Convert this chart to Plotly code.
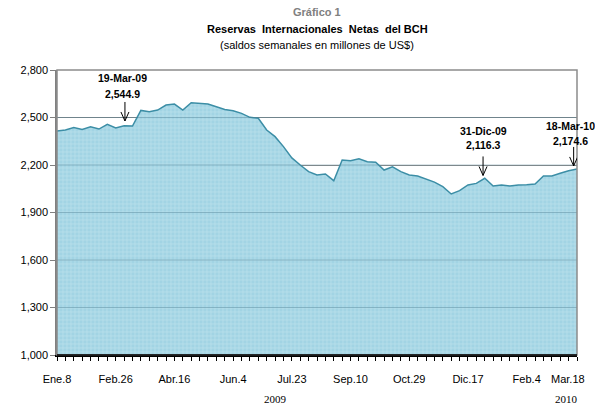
import plotly.graph_objects as go

# Weekly net international reserves (millions US$), 8-Jan-09 .. 18-Mar-10
values = [2415, 2421, 2436, 2425, 2442, 2427, 2457, 2434, 2448, 2446,
          2544.9, 2537, 2547, 2579, 2585, 2547, 2593, 2587, 2585, 2568,
          2550, 2543, 2526, 2501, 2495, 2421, 2379, 2316, 2245, 2200,
          2158, 2137, 2143, 2101, 2232, 2227, 2240, 2221, 2217, 2168,
          2189, 2158, 2137, 2131, 2112, 2092, 2063, 2017, 2038, 2074,
          2084, 2116.3, 2067, 2074, 2067, 2074, 2076, 2080, 2131, 2131,
          2148, 2164, 2174.6]
weeks = list(range(len(values)))

tick_idx = [0, 7, 14, 21, 28, 35, 42, 49, 56, 62]
tick_labels = ["Ene.8", "Feb.26", "Abr.16", "Jun.4", "Jul.23", "Sep.10",
               "Oct.29", "Dic.17", "Feb.4", "Mar.18"]

y_ticks = [1000, 1300, 1600, 1900, 2200, 2500, 2800]

# callouts: (label, value text, text x, text y-line1, text y-line2, arrow x, arrow tip y)
callouts = [
    ("19-Mar-09", "2,544.9", 7.75, 2750, 2648, 8.1, 2478),
    ("31-Dic-09", "2,116.3", 50.8, 2415, 2326, 50.8, 2134),
    ("18-Mar-10", "2,174.6", 61.26, 2446, 2352, 61.6, 2194),
]

font = "Liberation Sans, Arial, sans-serif"

fig = go.Figure()
fig.add_trace(go.Scatter(
    x=weeks, y=values, mode="lines",
    line=dict(color="#3c8ea6", width=1.5),
    fill="tozeroy", fillcolor="#a4d6e6",
    fillpattern=dict(shape="+", size=4, solidity=0.35,
                     fgcolor="#cfebf3", bgcolor="#a2d4e4"),
    hoverinfo="skip", showlegend=False,
))

fig.update_layout(
    width=595, height=407,
    margin=dict(l=57, r=18, t=70, b=52),
    paper_bgcolor="white", plot_bgcolor="white",
    font=dict(family=font, size=11, color="black"),
    xaxis=dict(
        range=[0, 62], tickmode="array", tickvals=tick_idx,
        ticktext=tick_labels[:-1] + [""],
        ticks="outside", ticklen=4, tickcolor="black", tickwidth=1,
        minor=dict(tickmode="linear", tick0=0, dtick=1, ticks="outside",
                   ticklen=4, tickcolor="black", tickwidth=1, showgrid=False),
        showline=True, linecolor="black", linewidth=1.5,
        showgrid=False, zeroline=False,
        tickfont=dict(size=11, family=font), ticklabelstandoff=9,
    ),
    yaxis=dict(
        range=[1000, 2800], tickmode="array", tickvals=y_ticks,
        ticktext=[f"{v:,}" for v in y_ticks],
        ticks="outside", ticklen=5, tickcolor="#808080",
        showline=True, linecolor="#808080", linewidth=1.5,
        showgrid=True, gridcolor="#8c8c8c", gridwidth=1,
        zeroline=False, tickfont=dict(size=11, family=font),
    ),
)

# gridlines faintly visible through the area
for v in y_ticks[1:-1]:
    fig.add_shape(type="line", xref="paper", yref="y", x0=0, x1=1, y0=v, y1=v,
                  line=dict(color="rgba(70,120,140,0.4)", width=1), layer="above")

# plot border
fig.add_shape(type="rect", xref="paper", yref="paper", x0=0, x1=1, y0=0, y1=1,
              line=dict(color="#8c8c8c", width=1.5), layer="above")
fig.add_shape(type="line", xref="paper", yref="paper", x0=0, x1=1, y0=0, y1=0,
              line=dict(color="black", width=1.5), layer="above")

# last tick label (kept inside the page like the original)
fig.add_annotation(text=tick_labels[-1], xref="x", yref="paper", x=60.9, y=0,
                   yanchor="middle", yshift=-24, showarrow=False,
                   font=dict(size=11, family=font))

# titles
fig.add_annotation(text="<b>Gráfico 1</b>", xref="paper", yref="paper",
                   x=0.5, y=1, yanchor="middle", yshift=58, showarrow=False,
                   font=dict(size=11, color="#808080", family=font))
fig.add_annotation(text="<b>Reservas  Internacionales  Netas  del BCH</b>",
                   xref="paper", yref="paper", x=0.5, y=1, yanchor="middle", yshift=41,
                   showarrow=False, font=dict(size=11, color="black", family=font))
fig.add_annotation(text="(saldos semanales en millones de US$)",
                   xref="paper", yref="paper", x=0.5, y=1, yanchor="middle", yshift=25,
                   showarrow=False, font=dict(size=11, color="black", family=font))

# callouts with open-head arrows
for lab, val, tx, ty1, ty2, axx, tip in callouts:
    fig.add_annotation(x=tx, y=ty1, xref="x", yref="y", text=f"<b>{lab}</b>",
                       showarrow=False, font=dict(size=10.5, family=font))
    fig.add_annotation(x=tx, y=ty2, xref="x", yref="y", text=f"<b>{val}</b>",
                       showarrow=False, font=dict(size=10.5, family=font))
    fig.add_shape(type="path", xref="x", yref="y",
                  xsizemode="pixel", ysizemode="pixel", xanchor=axx, yanchor=tip,
                  path="M 0,0 L 0,19 M -4,9 L 0,0 L 4,9",
                  line=dict(color="black", width=1), layer="above")

# years
serif = "Liberation Serif, Times New Roman, serif"
fig.add_annotation(text="2009", xref="x", yref="paper", x=26, y=0, yanchor="middle",
                   yshift=-44, showarrow=False, font=dict(size=11, family=serif))
fig.add_annotation(text="2010", xref="x", yref="paper", x=60.8, y=0, yanchor="middle",
                   yshift=-44, showarrow=False, font=dict(size=11, family=serif))

fig.write_html("out.html", config={"displayModeBar": False},
               post_script="document.body.style.margin='0';document.body.style.overflow='hidden';")
